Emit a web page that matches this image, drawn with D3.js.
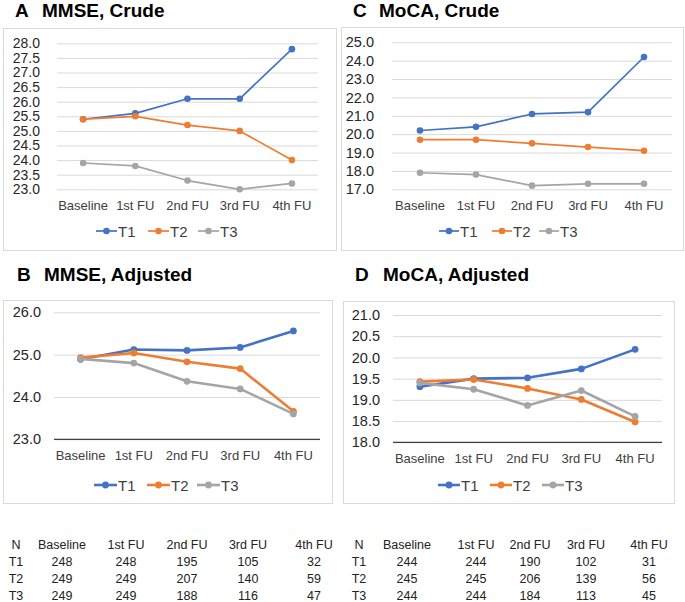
<!DOCTYPE html>
<html>
<head>
<meta charset="utf-8">
<script src="https://cdn.jsdelivr.net/npm/d3@7"></script>
<style>
  body { margin: 0; background: #fff; }
  text { font-family: "Liberation Sans", Arial, sans-serif; }
</style>
</head>
<body>
<script>
// categories and series
var categories = ["Baseline", "1st FU", "2nd FU", "3rd FU", "4th FU"];
var seriesNames = ["T1", "T2", "T3"];
var colors = ["#4472C4", "#ED7D31", "#A5A5A5"];

// A: MMSE crude
var mmseCrudeT1 = [25.4, 25.6, 26.1, 26.1, 27.8];
var mmseCrudeT2 = [25.4, 25.5, 25.2, 25.0, 24.0];
var mmseCrudeT3 = [23.9, 23.8, 23.3, 23.0, 23.2];
var mmseCrudeTicks = [23.0, 23.5, 24.0, 24.5, 25.0, 25.5, 26.0, 26.5, 27.0, 27.5, 28.0];

// B: MMSE adjusted
var mmseAdjT1 = [24.89, 25.12, 25.10, 25.17, 25.56];
var mmseAdjT2 = [24.93, 25.04, 24.83, 24.67, 23.66];
var mmseAdjT3 = [24.90, 24.80, 24.37, 24.19, 23.60];
var mmseAdjTicks = [23.0, 24.0, 25.0, 26.0];

// C: MoCA crude
var mocaCrudeT1 = [20.2, 20.4, 21.1, 21.2, 24.2];
var mocaCrudeT2 = [19.7, 19.7, 19.5, 19.3, 19.1];
var mocaCrudeT3 = [17.9, 17.8, 17.2, 17.3, 17.3];
var mocaCrudeTicks = [17.0, 18.0, 19.0, 20.0, 21.0, 22.0, 23.0, 24.0, 25.0];

// D: MoCA adjusted
var mocaAdjT1 = [19.31, 19.50, 19.52, 19.73, 20.19];
var mocaAdjT2 = [19.43, 19.48, 19.27, 19.01, 18.48];
var mocaAdjT3 = [19.40, 19.25, 18.87, 19.22, 18.61];
var mocaAdjTicks = [18.0, 18.5, 19.0, 19.5, 20.0, 20.5, 21.0];

// N at risk tables
var tableHeader = ["N"].concat(categories);
var nMmseT1 = [248, 248, 195, 105, 32];
var nMmseT2 = [249, 249, 207, 140, 59];
var nMmseT3 = [249, 249, 188, 116, 47];
var nMocaT1 = [244, 244, 190, 102, 31];
var nMocaT2 = [245, 245, 206, 139, 56];
var nMocaT3 = [244, 244, 184, 113, 45];

var svg = d3.select("body").append("svg")
  .attr("width", 685)
  .attr("height", 602);

var panels = [
  { letter: "A", title: "MMSE, Crude", box: [3, 28, 336, 250], xr: [57, 318], yr: [189.3, 43.3],
    ticks: mmseCrudeTicks, data: [mmseCrudeT1, mmseCrudeT2, mmseCrudeT3], lw: 1.7, r: 3.3, dark: false,
    tx: [15, 42], ty: 17, catY: 210, legY: 231, legX: [96, 148, 198], legLen: 21, pad: 17, fs: 14 },
  { letter: "C", title: "MoCA, Crude", box: [341, 27, 683, 250], xr: [392, 672], yr: [189.3, 42.3],
    ticks: mocaCrudeTicks, data: [mocaCrudeT1, mocaCrudeT2, mocaCrudeT3], lw: 1.7, r: 3.3, dark: false,
    tx: [353, 379], ty: 17, catY: 210, legY: 231, legX: [439, 492, 539], legLen: 20, pad: 18, fs: 14.5 },
  { letter: "B", title: "MMSE, Adjusted", box: [3, 300, 332, 503], xr: [54, 320], yr: [439.3, 312.3],
    ticks: mmseAdjTicks, data: [mmseAdjT1, mmseAdjT2, mmseAdjT3], lw: 2.6, r: 3.4, dark: true,
    tx: [17, 44], ty: 281, catY: 460, legY: 485, legX: [94, 147, 197], legLen: 23, pad: 13, fs: 14.5 },
  { letter: "D", title: "MoCA, Adjusted", box: [343, 301, 674, 503], xr: [393, 662], yr: [442.3, 315],
    ticks: mocaAdjTicks, data: [mocaAdjT1, mocaAdjT2, mocaAdjT3], lw: 2.6, r: 3.4, dark: true,
    tx: [355, 383], ty: 281, catY: 463, legY: 485, legX: [438, 490, 542], legLen: 22, pad: 13, fs: 14.5 }
];

panels.forEach(function(p) {
  var g = svg.append("g");

  g.append("rect")
    .attr("x", p.box[0] + 0.5).attr("y", p.box[1] + 0.5)
    .attr("width", p.box[2] - p.box[0]).attr("height", p.box[3] - p.box[1])
    .attr("fill", "#fff").attr("stroke", "#d9d9d9");

  g.append("text").attr("x", p.tx[0]).attr("y", p.ty)
    .style("font-size", "19px").style("font-weight", "bold").text(p.letter);
  g.append("text").attr("x", p.tx[1]).attr("y", p.ty)
    .style("font-size", "19px").style("font-weight", "bold").text(p.title);

  var x = d3.scalePoint().domain(categories).range(p.xr).padding(0.5);
  var y = d3.scaleLinear().domain(d3.extent(p.ticks)).range(p.yr);

  var yAxis = g.append("g")
    .attr("transform", "translate(" + p.xr[0] + ",0)")
    .call(d3.axisLeft(y).tickValues(p.ticks).tickFormat(d3.format(".1f"))
      .tickSize(-(p.xr[1] - p.xr[0])).tickPadding(p.pad));
  yAxis.select(".domain").remove();
  yAxis.selectAll(".tick line").attr("stroke", "#d9d9d9").attr("stroke-width", 1);
  yAxis.selectAll(".tick text").style("font-size", p.fs + "px").attr("fill", "#262626")
    .style("font-family", "'Liberation Sans', Arial, sans-serif");

  if (p.dark) {
    g.append("line")
      .attr("x1", p.xr[0]).attr("x2", p.xr[1])
      .attr("y1", y(p.ticks[0])).attr("y2", y(p.ticks[0]))
      .attr("stroke", "#404040").attr("stroke-width", 1.3);
  }

  g.selectAll(".cat").data(categories).enter().append("text")
    .attr("x", function(d) { return x(d); })
    .attr("y", p.catY)
    .attr("text-anchor", "middle")
    .style("font-size", "13px").attr("fill", "#404040")
    .text(function(d) { return d; });

  var line = d3.line()
    .x(function(d, i) { return x(categories[i]); })
    .y(function(d) { return y(d); });

  p.data.forEach(function(vals, s) {
    g.append("path").datum(vals)
      .attr("d", line).attr("fill", "none")
      .attr("stroke", colors[s]).attr("stroke-width", p.lw)
      .attr("stroke-linejoin", "round");
    g.selectAll(".pt" + s).data(vals).enter().append("circle")
      .attr("cx", function(d, i) { return x(categories[i]); })
      .attr("cy", function(d) { return y(d); })
      .attr("r", p.r).attr("fill", colors[s]);
  });

  // legend
  seriesNames.forEach(function(name, s) {
    var lx = p.legX[s];
    g.append("line")
      .attr("x1", lx).attr("x2", lx + p.legLen)
      .attr("y1", p.legY).attr("y2", p.legY)
      .attr("stroke", colors[s]).attr("stroke-width", p.lw);
    g.append("circle").attr("cx", lx + p.legLen / 2).attr("cy", p.legY)
      .attr("r", p.r).attr("fill", colors[s]);
    g.append("text").attr("x", lx + p.legLen + 1).attr("y", p.legY + 5.5)
      .style("font-size", "15px").attr("fill", "#404040").text(name);
  });
});

// N tables
var tables = [
  { cols: [16, 62, 126, 187, 248, 314], rows: [nMmseT1, nMmseT2, nMmseT3] },
  { cols: [359, 407, 476, 530, 586, 649], rows: [nMocaT1, nMocaT2, nMocaT3] }
];
var rowY = d3.scalePoint().domain(["N"].concat(seriesNames)).range([548.5, 600]);

tables.forEach(function(t) {
  var colX = d3.scaleOrdinal().domain(tableHeader).range(t.cols);
  var tg = svg.append("g").style("font-size", "12.5px");
  tg.selectAll(".h").data(tableHeader).enter().append("text")
    .attr("x", function(d) { return colX(d); })
    .attr("y", rowY("N"))
    .attr("text-anchor", "middle").attr("fill", "#222")
    .text(function(d) { return d; });
  t.rows.forEach(function(row, s) {
    var cells = [seriesNames[s]].concat(row);
    tg.selectAll(".r" + s).data(cells).enter().append("text")
      .attr("x", function(d, i) { return colX(tableHeader[i]); })
      .attr("y", rowY(seriesNames[s]))
      .attr("text-anchor", "middle").attr("fill", "#222")
      .text(function(d) { return d; });
  });
});
</script>
</body>
</html>
